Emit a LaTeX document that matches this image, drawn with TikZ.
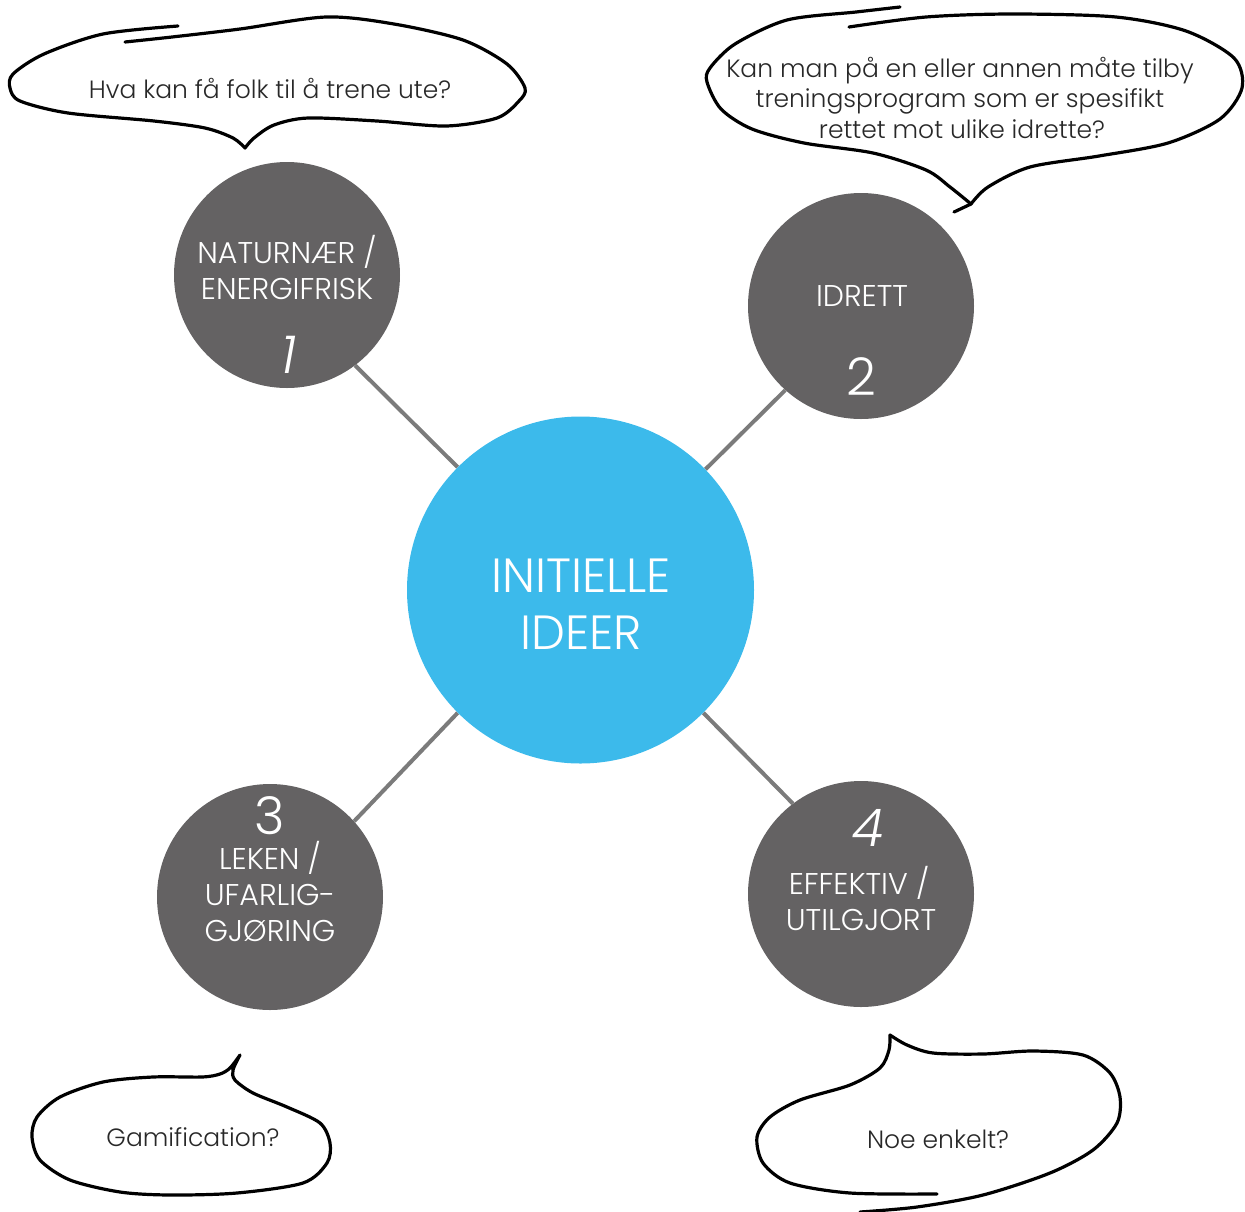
\documentclass[tikz,border=0pt]{standalone}
\usepackage{fontspec}
\setmainfont{Poppins Light}
\usetikzlibrary{backgrounds}
\definecolor{ideablue}{RGB}{60,186,235}
\definecolor{themegrey}{RGB}{100,98,99}
\definecolor{linkgrey}{RGB}{123,123,123}
\definecolor{inkdark}{RGB}{40,40,40}

\begin{document}
\begin{tikzpicture}[x=1pt,y=-1pt,
  hub/.style={circle, fill=ideablue, minimum size=347pt, inner sep=0pt},
  theme/.style={circle, fill=themegrey, minimum size=226pt, inner sep=0pt},
  link/.style={draw=linkgrey, line width=4pt},
  themetext/.style={text=white, font=\fontsize{30}{30}\selectfont, anchor=base, inner sep=0pt},
  numeral/.style={text=white, font=\fontsize{52}{52}\selectfont, anchor=base, inner sep=0pt},
  slanted/.style={xslant=0.18, transform shape},
  hubtext/.style={text=white, font=\fontsize{48}{48}\selectfont, anchor=base, inner sep=0pt},
  bubble/.style={draw=black, line width=3.2pt, line cap=round, line join=round},
  question/.style={text=inkdark, font=\fontsize{25}{25}\selectfont, anchor=base, inner sep=0pt},
]
\useasboundingbox (0,0) rectangle (1245,1211);

% central idea and the four themes
\node[hub] (hub) at (580.5,590) {};
\node[theme] (n1) at (287,275) {};
\node[theme] (n2) at (861,306) {};
\node[theme] (n3) at (270,897) {};
\node[theme] (n4) at (861,894) {};

% spokes from the centre to each theme
\begin{scope}[on background layer]
  \draw[link] (hub.135) -- (n1.-53);
  \draw[link] (hub.44)  -- (n2.-132);
  \draw[link] (hub.225) -- (n3.42);
  \draw[link] (hub.-45) -- (n4.127);
\end{scope}

% texts in the circles
\node[hubtext] (hubA) at (581,592) {INITIELLE};
\node[hubtext] (hubB) at (581,649) {IDEER};

\node[themetext] (t1a) at (287,263) {NATURNÆR /};
\node[themetext] (t1b) at (287,299) {ENERGIFRISK};
\node[numeral, slanted] (k1) at (286,373) {1};

\node[themetext] (t2) at (862,306) {IDRETT};
\node[numeral] (k2) at (861,395) {2};

\node[numeral] (k3) at (270,834) {3};
\node[themetext] (t3a) at (270,869) {LEKEN /};
\node[themetext] (t3b) at (270,905) {UFARLIG-};
\node[themetext] (t3c) at (270,941) {GJØRING};

\node[numeral, slanted] (k4) at (865,846) {4};
\node[themetext] (t4a) at (859,894) {EFFEKTIV /};
\node[themetext] (t4b) at (861,930) {UTILGJORT};

% hand-drawn speech bubbles
\draw[bubble] plot[smooth] coordinates {(178,26) (103,34) (44,54) (13,74) (10,88) (20,101) (68,113) (154,121) (205,128) (233,138) (245,148)}
  -- plot[smooth] coordinates {(245,148) (254,138) (274,125) (308,118) (377,121) (446,126) (497,118) (519,101) (525,88) (507,64) (463,40) (394,24) (326,17) (240,29) (172,37) (125,42)};

\draw[bubble] plot[smooth] coordinates {(900,7) (856,12) (787,20) (735,44) (710,68) (707,82) (721,109) (752,129) (804,143) (873,153) (926,170) (950,187) (971,204)} -- (954,212);
\draw[bubble] plot[smooth] coordinates {(971,204) (988,187) (1030,167) (1099,156) (1168,143) (1220,119) (1242,88) (1234,58) (1186,31) (1116,17) (1012,14) (926,17) (849,27)};

\draw[bubble] plot[smooth] coordinates {(240,1055) (230,1068) (220,1074) (202,1077) (153,1077) (103,1082) (60,1097) (37,1117) (32,1137) (40,1160) (70,1180) (120,1192) (170,1195) (237,1193) (303,1183) (327,1163) (330,1143) (320,1123) (287,1107) (253,1093) (235,1080) (233,1070) (240,1055)};

\draw[bubble] plot[smooth] coordinates {(890,1035) (889,1050) (880,1068) (850,1085) (800,1100) (770,1117) (757,1137) (763,1163) (790,1183) (850,1193) (937,1194)};
\draw[bubble] plot[smooth] coordinates {(890,1035) (907,1045) (933,1053) (983,1054) (1033,1051) (1083,1055) (1110,1073) (1120,1097) (1117,1123) (1093,1150) (1050,1173) (983,1195) (917,1207) (860,1212)};

% questions in the bubbles
\node[question] (q1) at (270,98) {Hva kan få folk til å trene ute?};
\node[question] (q2a) at (960,77) {Kan man på en eller annen måte tilby};
\node[question] (q2b) at (960,107) {treningsprogram som er spesifikt};
\node[question] (q2c) at (962,138) {rettet mot ulike idrette?};
\node[question] (q3) at (193,1146) {Gamification?};
\node[question] (q4) at (938,1148) {Noe enkelt?};
\end{tikzpicture}
\end{document}
